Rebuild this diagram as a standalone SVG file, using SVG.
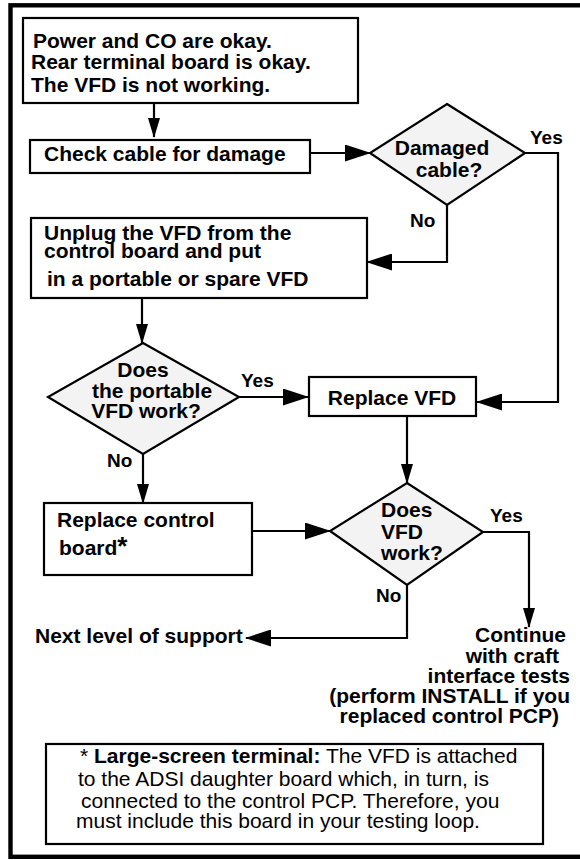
<svg xmlns="http://www.w3.org/2000/svg" width="580" height="860" viewBox="0 0 580 860">
  <style>
    text { font-family: "Liberation Sans", Arial, sans-serif; fill: #000; }
    .b { font-weight: bold; font-size: 21px; }
    .lbl { font-weight: bold; font-size: 19px; }
    .note { font-size: 21px; }
    .box { fill: #fff; stroke: #000; stroke-width: 2.2; }
    .dia { fill: #f3f3f3; stroke: #000; stroke-width: 2.2; stroke-linejoin: miter; }
    .wire { fill: none; stroke: #000; stroke-width: 2.2; }
    .h { marker-end: url(#ah); }
    .v { marker-end: url(#av); }
  </style>
  <defs>
    <marker id="ah" markerUnits="userSpaceOnUse" markerWidth="26" markerHeight="17" refX="25" refY="8.5" orient="auto">
      <path d="M0,0 L26,8.5 L0,17 z" fill="#000"/>
    </marker>
    <marker id="av" markerUnits="userSpaceOnUse" markerWidth="20" markerHeight="12" refX="19" refY="6" orient="auto">
      <path d="M0,0 L20,6 L0,12 z" fill="#000"/>
    </marker>
  </defs>

  <!-- outer frame (right edge runs past the page) -->
  <rect x="10.5" y="5.3" width="600" height="851.5" fill="#fff" stroke="#000" stroke-width="4.4"/>

  <!-- connectors -->
  <g id="connectors">
    <path class="wire v" d="M154,103 V137"/>
    <path class="wire h" d="M310,153 H370"/>
    <path class="wire h" d="M525,153 H558 V402 H477"/>
    <path class="wire h" d="M447,205 V262 H367"/>
    <path class="wire v" d="M142,298 V343"/>
    <path class="wire h" d="M239,397 H308"/>
    <path class="wire v" d="M143,454 V503"/>
    <path class="wire v" d="M407,416 V483"/>
    <path class="wire h" d="M252,531 H330"/>
    <path class="wire v" d="M483,532 H529 V627"/>
    <path class="wire h" d="M407,585 V638 H246"/>
  </g>

  <!-- branch labels -->
  <g id="labels">
    <text class="lbl" x="530" y="144">Yes</text>
    <text class="lbl" x="410" y="227">No</text>
    <text class="lbl" x="241" y="387">Yes</text>
    <text class="lbl" x="107" y="467">No</text>
    <text class="lbl" x="490" y="522">Yes</text>
    <text class="lbl" x="376" y="602">No</text>
  </g>

  <g id="start">
    <rect class="box" x="23" y="18" width="335" height="85"/>
    <text class="b" x="33" y="48">Power and CO are okay.</text>
    <text class="b" x="31" y="69">Rear terminal board is okay.</text>
    <text class="b" x="31" y="92">The VFD is not working.</text>
  </g>

  <g id="check-cable">
    <rect class="box" x="30" y="140" width="280" height="33"/>
    <text class="b" x="44" y="161">Check cable for damage</text>
  </g>

  <g id="damaged-cable">
    <polygon class="dia" points="447,104 525,153 447,205 370,153"/>
    <text class="b" x="442" y="155" text-anchor="middle">Damaged</text>
    <text class="b" x="449" y="177" text-anchor="middle">cable?</text>
  </g>

  <g id="swap-vfd">
    <rect class="box" x="31" y="218" width="336" height="80"/>
    <text class="b" x="44" y="240">Unplug the VFD from the</text>
    <text class="b" x="44" y="258">control board and put</text>
    <text class="b" x="47" y="286">in a portable or spare VFD</text>
  </g>

  <g id="portable-works">
    <polygon class="dia" points="143,343 239,397 143,454 48,397"/>
    <text class="b" x="143" y="377" text-anchor="middle">Does</text>
    <text class="b" x="152" y="398" text-anchor="middle">the portable</text>
    <text class="b" x="146" y="418" text-anchor="middle">VFD work?</text>
  </g>

  <g id="replace-vfd">
    <rect class="box" x="309" y="377" width="167" height="39"/>
    <text class="b" x="392" y="405" text-anchor="middle">Replace VFD</text>
  </g>

  <g id="replace-control">
    <rect class="box" x="44" y="503" width="208" height="72"/>
    <text class="b" x="57" y="527">Replace control</text>
    <text class="b" x="59" y="555">board<tspan font-size="26">*</tspan></text>
  </g>

  <g id="vfd-works">
    <polygon class="dia" points="407,483 483,532 407,585 330,531"/>
    <text class="b" x="381" y="517">Does</text>
    <text class="b" x="381" y="539">VFD</text>
    <text class="b" x="381" y="560">work?</text>
  </g>

  <g id="next-level">
    <text class="b" x="35" y="643">Next level of support</text>
  </g>

  <g id="continue">
    <text class="b" x="566" y="642" text-anchor="end">Continue</text>
    <text class="b" x="559" y="663" text-anchor="end">with craft</text>
    <text class="b" x="570" y="683" text-anchor="end">interface tests</text>
    <text class="b" x="570" y="703" text-anchor="end">(perform INSTALL if you</text>
    <text class="b" x="559" y="723" text-anchor="end">replaced control PCP)</text>
  </g>

  <g id="footnote">
    <rect class="box" x="46" y="744" width="497" height="100"/>
    <text class="note" x="80" y="763">* <tspan font-weight="bold">Large-screen terminal:</tspan> The VFD is attached</text>
    <text class="note" x="78" y="786">to the ADSI daughter board which, in turn, is</text>
    <text class="note" x="81" y="808">connected to the control PCP. Therefore, you</text>
    <text class="note" x="76" y="828">must include this board in your testing loop.</text>
  </g>
</svg>
